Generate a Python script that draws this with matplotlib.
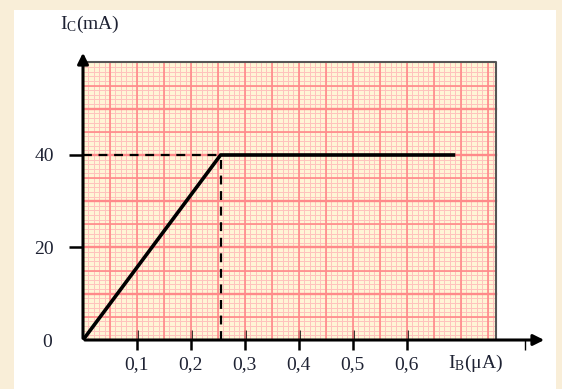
import numpy as np
import matplotlib.pyplot as plt
from matplotlib.patches import Rectangle

plt.rcParams['font.family'] = 'Liberation Serif'
plt.rcParams['mathtext.fontset'] = 'custom'
plt.rcParams['mathtext.rm'] = 'Liberation Serif'
plt.rcParams['mathtext.it'] = 'Liberation Serif'

# characteristic I_C = f(I_B)
ib = [0, 0.255, 0.69]
ic = [0, 40, 40]
ib_sat = 0.255
ic_sat = 40

x_ticks = [0.1, 0.2, 0.3, 0.4, 0.5, 0.6]
x_labels = ['0,1', '0,2', '0,3', '0,4', '0,5', '0,6']
y_ticks = [20, 40]
y_labels = ['20', '40']

txt = '#1e2233'
fs = 14

fig = plt.figure(figsize=(5.62, 3.89), dpi=100)
fig.patch.set_facecolor('#f9eed8')
fig.patches.append(Rectangle((14/562, 0), 542/562, 379/389, transform=fig.transFigure,
                             facecolor='white', edgecolor='none', zorder=-5))

ax = fig.add_axes([83/562, 49/389, 464/562, 290/389])
ax.set_xlim(0, 0.86)
ax.set_ylim(0, 62.7)
ax.patch.set_alpha(0)
for s in ax.spines.values():
    s.set_visible(False)

# graph paper
gx, gy = 0.765, 60
ax.add_patch(Rectangle((0, 0), gx, gy, facecolor='#fff5d6', edgecolor='none', zorder=0))
for x in np.arange(0.01, gx, 0.01):
    ax.plot([x, x], [0, gy], color='#ffc2bd', lw=0.7, zorder=1)
for y in np.arange(1, gy, 1):
    ax.plot([0, gx], [y, y], color='#ffc2bd', lw=0.7, zorder=1)
for x in np.arange(0.05, gx, 0.05):
    ax.plot([x, x], [0, gy], color='#ff8a8a', lw=1.2, zorder=2)
for y in np.arange(5, gy, 5):
    ax.plot([0, gx], [y, y], color='#ff8a8a', lw=1.7 if y % 10 == 0 else 1.2, zorder=2)
ax.plot([0, gx, gx], [gy, gy, 0], color='#555555', lw=1.5, zorder=3)

# axes with arrows
ax.annotate('', xy=(1.0, 0), xytext=(-0.002, 0), xycoords='axes fraction',
            arrowprops=dict(arrowstyle='-|>', color='black', lw=2.2, mutation_scale=16), zorder=5)
ax.annotate('', xy=(0, 1.0), xytext=(0, -0.004), xycoords='axes fraction',
            arrowprops=dict(arrowstyle='-|>', color='black', lw=2.2, mutation_scale=16), zorder=5)

ax.set_xticks(x_ticks, x_labels)
ax.set_xticks([0.82], minor=True)
ax.set_yticks(y_ticks, y_labels)
ax.tick_params(axis='x', direction='inout', length=15, width=1.8, pad=4,
               labelsize=fs, labelcolor=txt)
ax.tick_params(axis='x', which='minor', direction='out', length=7, width=1.0)
ax.tick_params(axis='y', direction='out', length=10, width=1.8, pad=11,
               labelsize=fs, labelcolor=txt)

# characteristic
ax.plot(ib, ic, color='black', lw=2.6, zorder=6, solid_capstyle='butt')
ax.plot([0, ib_sat], [ic_sat, ic_sat], color='black', lw=1.6, ls=(0, (4, 3)), zorder=6)
ax.plot([ib_sat, ib_sat], [0, ic_sat], color='black', lw=1.6, ls=(0, (4, 3)), zorder=6)

ax.text(-0.067, -0.6, '0', fontsize=fs, color=txt, ha='center', va='center')
ax.text(0.727, -5.0, r'$\mathrm{I_B}$(μA)', fontsize=fs, color=txt, ha='center', va='center')
fig.text(90/562, 1 - 24/389, r'$\mathrm{I_C}$(mA)', fontsize=fs, color=txt, ha='center', va='center')

fig.savefig('out.png', dpi=100, facecolor=fig.get_facecolor())
